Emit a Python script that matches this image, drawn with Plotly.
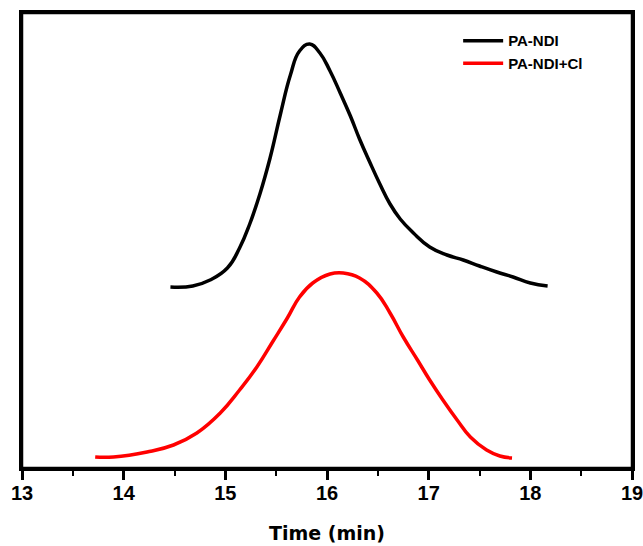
import plotly.graph_objects as go

# Black curve: PA-NDI
t_black = [14.46, 14.68, 14.85, 15.02, 15.14, 15.24, 15.34, 15.44, 15.54, 15.64, 15.73, 15.83,
           15.93, 16.03, 16.13, 16.23, 16.32, 16.42, 16.52, 16.62, 16.72, 16.85, 17.01, 17.18,
           17.34, 17.50, 17.67, 17.83, 18.00, 18.17]
s_black = [180, 181, 187, 199, 219, 243, 273, 309, 352, 392, 416, 423,
           414, 396, 374, 351, 328, 305, 283, 263, 248, 234, 220, 212,
           207, 201, 195, 190, 184, 181]

# Red curve: PA-NDI+Cl
t_red = [13.72, 13.90, 14.23, 14.49, 14.72, 14.95, 15.14, 15.31, 15.47, 15.61, 15.73, 15.86,
         16.03, 16.16, 16.32, 16.49, 16.62, 16.75, 16.89, 17.01, 17.14, 17.28, 17.41, 17.57,
         17.70, 17.82]
s_red = [10, 10, 15, 22, 34, 54, 77, 100, 126, 149, 170, 184,
         193, 194, 189, 174, 154, 130, 107, 87, 67, 47, 30, 17,
         11, 9]

x_ticks = [13, 14, 15, 16, 17, 18, 19]

font_family = "Liberation Sans, Arial, sans-serif"

fig = go.Figure()
fig.add_trace(go.Scatter(x=t_black, y=s_black, mode="lines", name="PA-NDI",
                         line=dict(color="black", width=3.5, shape="spline", smoothing=1.3)))
fig.add_trace(go.Scatter(x=t_red, y=s_red, mode="lines", name="PA-NDI+Cl",
                         line=dict(color="#ff0000", width=3.5, shape="spline", smoothing=1.3)))

# plot frame
fig.add_shape(type="rect", xref="paper", yref="paper", x0=0, y0=0, x1=1, y1=1,
              line=dict(color="black", width=2.5), fillcolor="rgba(0,0,0,0)", layer="above")

fig.update_layout(
    width=643, height=546,
    margin=dict(l=22, r=11, t=13, b=78, autoexpand=False),
    paper_bgcolor="white", plot_bgcolor="white",
    showlegend=True,
    legend=dict(x=0.715, y=0.975, xanchor="left", yanchor="top",
                bgcolor="rgba(0,0,0,0)", borderwidth=0,
                font=dict(family=font_family, size=15, color="black", weight="bold"),
                itemwidth=40, tracegroupgap=0),
    xaxis=dict(range=[13, 19], tickvals=x_ticks, ticktext=[str(v) for v in x_ticks],
               showgrid=False, zeroline=False, automargin=False,
               showline=True, linecolor="black", linewidth=2.5, mirror=True,
               ticks="outside", ticklen=9, tickwidth=2.5, tickcolor="black",
               ticklabelstandoff=-4, ticklabeloverflow="allow",
               minor=dict(ticks="outside", ticklen=5, tickwidth=2, tickcolor="black", dtick=0.5, showgrid=False),
               tickfont=dict(family=font_family, size=20, color="black", weight="bold"),
               title=dict(text="Time (min)", standoff=24,
                          font=dict(family="DejaVu Sans, sans-serif", size=19, color="black", weight="bold"))),
    yaxis=dict(range=[-1, 454], showticklabels=False, ticks="", showgrid=False, zeroline=False,
               automargin=False,
               showline=True, linecolor="black", linewidth=2.5, mirror=True),
)

fig.write_html("out.html")
